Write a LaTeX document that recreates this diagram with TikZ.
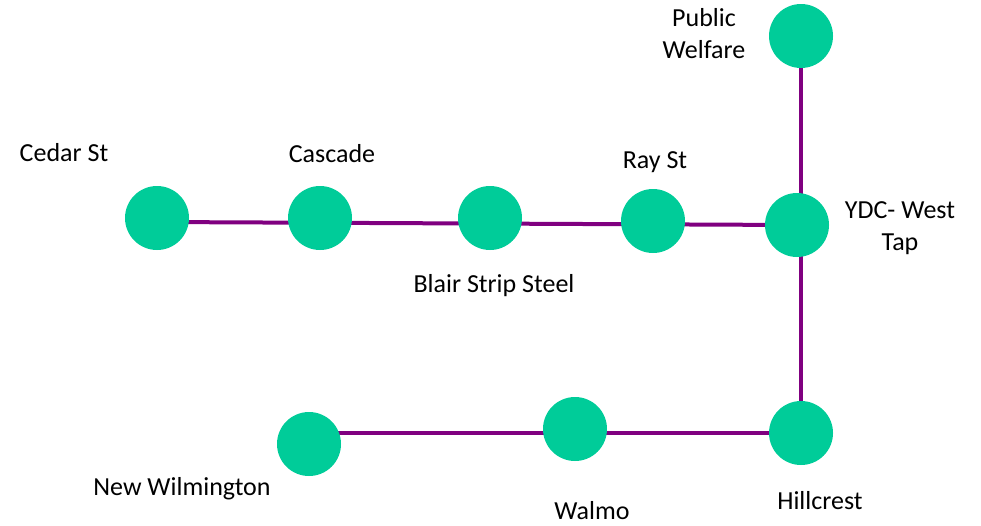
\documentclass[tikz,border=0pt]{standalone}
\usepackage{fontspec}
\setmainfont{Carlito}
\definecolor{nodegreen}{HTML}{00CC99}
\definecolor{linepurple}{HTML}{800080}
\pgfdeclarelayer{bg}
\pgfsetlayers{bg,main}
\begin{document}
\begin{tikzpicture}[x=1pt,y=-1pt,
  stop/.style={circle,fill=nodegreen,minimum size=64pt,inner sep=0pt},
  lbl/.style={font=\fontsize{26}{32}\selectfont,inner sep=0pt,text=black,align=center},
  track/.style={draw=linepurple,line width=4pt}]
\useasboundingbox (0,0) rectangle (981,525);
\node[stop] (pw) at (801,36) {};
\node[stop] (cedar) at (157,218) {};
\node[stop] (cascade) at (320,218) {};
\node[stop] (blair) at (490,218) {};
\node[stop] (ray) at (653,221) {};
\node[stop] (ydc) at (797,225) {};
\node[stop] (hill) at (801,433) {};
\node[stop] (walmo) at (575,429) {};
\node[stop] (nw) at (309,444) {};
\begin{pgfonlayer}{bg}
\draw[track] ([yshift=-4pt]cedar.center) -- (ydc.center);
\draw[track] (pw.center) -- (hill.center);
\draw[track] (hill.center) -- (hill.center -| nw.center);
\end{pgfonlayer}
\node[lbl,anchor=base] (lcedar) at (64,161) {Cedar St};
\node[lbl,anchor=base] (lcascade) at (332,162) {Cascade};
\node[lbl,anchor=base] (lray) at (655,168) {Ray St};
\node[lbl,anchor=base] (lblair) at (494,292) {Blair Strip Steel};
\node[lbl] (lpw) at (704,34) {Public\\Welfare};
\node[lbl] (lydc) at (900,228) {YDC- West\\Tap};
\node[lbl,anchor=base] (lnw) at (182,495) {New Wilmington};
\node[lbl,anchor=base] (lwalmo) at (592,519) {Walmo};
\node[lbl,anchor=base] (lhill) at (820,509) {Hillcrest};
\end{tikzpicture}
\end{document}
